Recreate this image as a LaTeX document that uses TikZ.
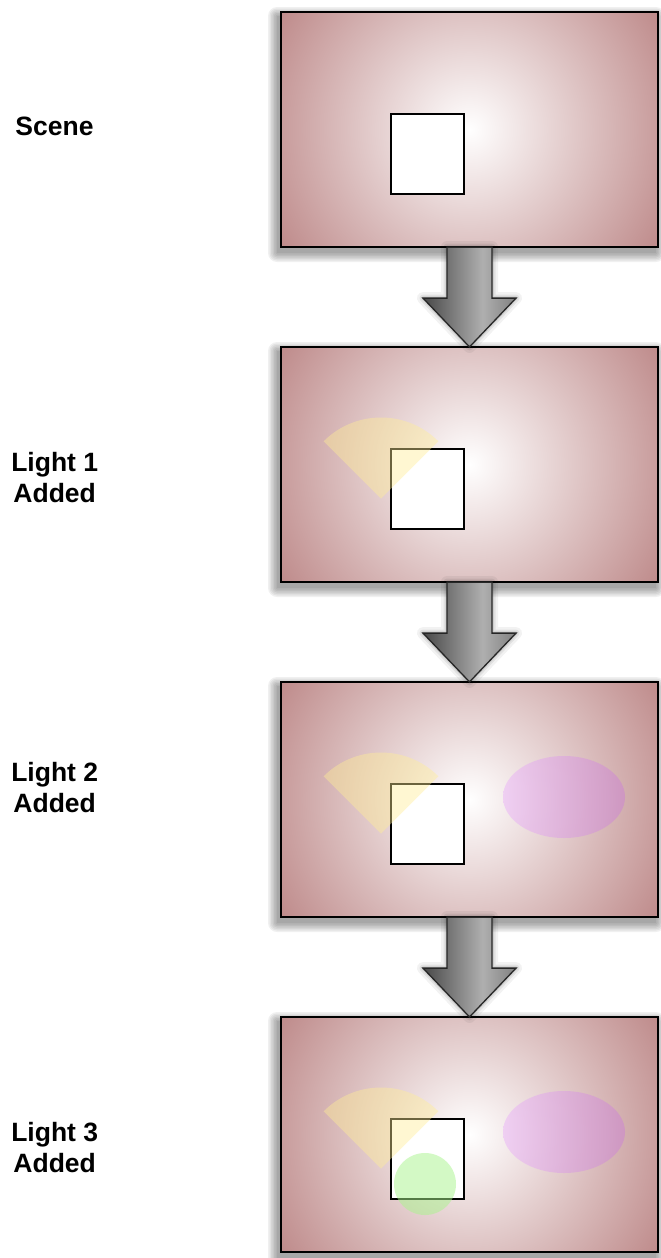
\documentclass[tikz,border=0pt]{standalone}
\usepackage{fontspec}
\setmainfont{Liberation Sans}
\usetikzlibrary{calc}
\definecolor{panelcorner}{RGB}{190,138,138}
\definecolor{sectorcol}{RGB}{255,238,150}
\definecolor{ellL}{RGB}{236,190,246}
\definecolor{ellR}{RGB}{205,138,205}
\definecolor{circcol}{RGB}{168,245,140}
\definecolor{arrowdark}{RGB}{72,72,72}
\definecolor{arrowlight}{RGB}{175,175,175}
\definecolor{arrowmid}{RGB}{128,128,128}
\pgfdeclareradialshading{panelshade}{\pgfpointorigin}{color(0bp)=(white); color(25bp)=(panelcorner); color(50bp)=(panelcorner)}
\pgfdeclarehorizontalshading{arrowshade}{100bp}{color(0bp)=(arrowdark); color(25bp)=(arrowdark); color(57bp)=(arrowlight); color(75bp)=(arrowmid); color(100bp)=(arrowmid)}
\tikzset{
  panel/.style={rectangle, draw=black, line width=1.8pt, minimum width=377.2pt, minimum height=235.2pt, inner sep=0pt, outer sep=0pt,
    path picture={\shade[shading=panelshade] (path picture bounding box.center) circle (224pt);}},
  sqbox/.style={rectangle, draw=black, fill=white, line width=1.8pt, minimum width=73.2pt, minimum height=80.2pt, inner sep=0pt, outer sep=0pt},
  lab/.style={font=\fontsize{26.5}{31}\selectfont\bfseries, align=center, inner sep=0pt},
  blockarrow/.style={shading=arrowshade, draw=black!85, line width=1.3pt, line join=miter},
  sectorfill/.style={fill=sectorcol, fill opacity=0.42},
  ellfill/.style={left color=ellL, right color=ellR, opacity=0.62},
  circfill/.style={fill=circcol, fill opacity=0.5},
}
\newcommand{\panelshadow}{%
  \foreach \k in {0,1.5,...,9}{
    \fill[black, opacity=0.06, rounded corners=\k pt] (280-3-\k,-11-5+\k) rectangle (659-3+\k,-248-5-\k);
  }%
}
\begin{document}
\begin{tikzpicture}[x=1pt,y=1pt]
\useasboundingbox (0,0) rectangle (661,-1258);
% panel 1
\panelshadow
\node[panel] (p1) at (469.5,-129.5) {};
\node[sqbox] (s1) at (427.5,-154) {};
% panel 2
\begin{scope}[shift={(0,-335)}]
\panelshadow
\node[panel] (p2) at (469.5,-129.5) {};
\node[sqbox] (s2) at (427.5,-154) {};
\fill[sectorfill] (381,-163.5) -- ++(45:81) arc[start angle=45, end angle=135, radius=81] -- cycle;
\end{scope}
% panel 3
\begin{scope}[shift={(0,-670)}]
\panelshadow
\node[panel] (p3) at (469.5,-129.5) {};
\node[sqbox] (s3) at (427.5,-154) {};
\fill[sectorfill] (381,-163.5) -- ++(45:81) arc[start angle=45, end angle=135, radius=81] -- cycle;
\shade[ellfill] (564,-127) ellipse[x radius=61, y radius=41];
\end{scope}
% panel 4
\begin{scope}[shift={(0,-1005)}]
\panelshadow
\node[panel] (p4) at (469.5,-129.5) {};
\node[sqbox] (s4) at (427.5,-154) {};
\fill[sectorfill] (381,-163.5) -- ++(45:81) arc[start angle=45, end angle=135, radius=81] -- cycle;
\shade[ellfill] (564,-127) ellipse[x radius=61, y radius=41];
\fill[circfill] (425,-179) circle (31);
\end{scope}
% arrows
\foreach \a/\b in {p1/p2, p2/p3, p3/p4}{
  \path[blockarrow,
    preaction={draw=black, opacity=0.05, line width=12pt, line join=round},
    preaction={draw=black, opacity=0.07, line width=7pt, line join=round},
    preaction={draw=black, opacity=0.09, line width=3.5pt, line join=round}]
    ($(\a.south)+(-22.5,0)$) -- ($(\a.south)+(22.5,0)$) -- ($(\a.south)+(22.5,-51)$)
    -- ($(\a.south)+(46.5,-51)$) -- (\b.north) -- ($(\a.south)+(-46.5,-51)$)
    -- ($(\a.south)+(-22.5,-51)$) -- cycle;
}
% labels
\node[lab] (l1) at (54.5,-126) {Scene};
\node[lab] (l2) at (54.7,-478) {Light 1\\Added};
\node[lab] (l3) at (54.7,-788) {Light 2\\Added};
\node[lab] (l4) at (54.7,-1148) {Light 3\\Added};
\end{tikzpicture}
\end{document}
